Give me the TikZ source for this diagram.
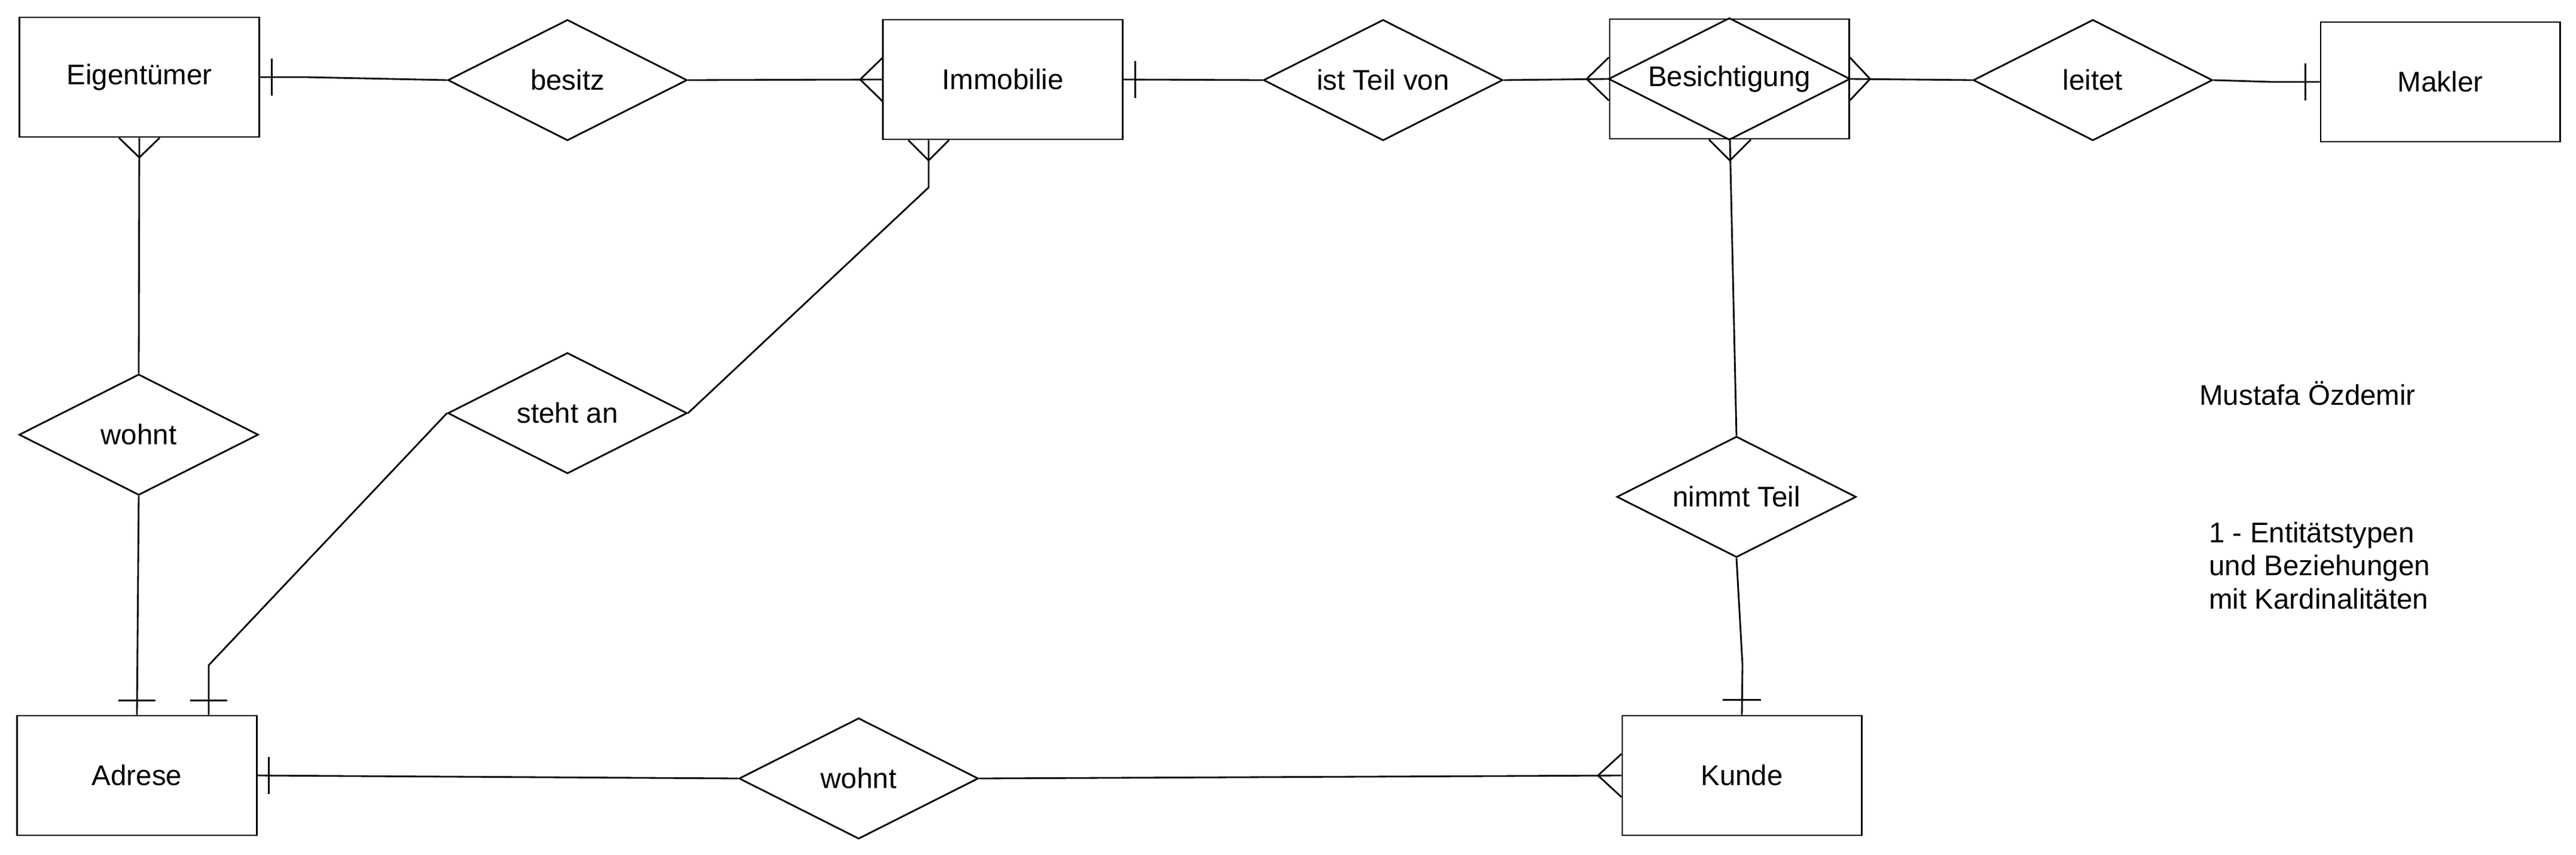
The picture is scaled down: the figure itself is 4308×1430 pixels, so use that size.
\documentclass[tikz,border=0pt]{standalone}
\usepackage{fontspec}
\setmainfont{Liberation Sans}
\usetikzlibrary{calc,shapes.geometric}

\begin{document}
\begin{tikzpicture}[x=0.01cm, y=-0.01cm, thick,
	every node/.style={font=\fontsize{13.5}{16}\selectfont},
	entity/.style={draw, rectangle, minimum width=4cm, minimum height=2cm, inner sep=0pt},
	relation/.style={draw, diamond, aspect=2, minimum width=4cm, minimum height=2.02cm, inner sep=0pt}]
	\useasboundingbox (0,0) rectangle (4308,1430);

	%entities
	\node[entity] (eig) at (233,129) {Eigentümer};
	\node[entity] (immo) at (1677,133) {Immobilie};
	\node[entity] (besi) at (2892,132) {Besichtigung};
	\draw (besi.west)--(besi.north)--(besi.east)--(besi.south)--cycle;
	\node[entity] (makler) at (4081,137) {Makler};
	\node[entity] (adr) at (229,1297) {Adrese};
	\node[entity] (kunde) at (2913,1297) {Kunde};

	%relationships
	\node[relation] (besitz) at (949,134) {besitz};
	\node[relation] (teil) at (2313,134) {ist Teil von};
	\node[relation] (leitet) at (3500,134) {leitet};
	\node[relation] (wohnA) at (232,727) {wohnt};
	\node[relation] (steht) at (949,691) {steht an};
	\node[relation] (nimmt) at (2904,831) {nimmt Teil};
	\node[relation] (wohnB) at (1436,1302) {wohnt};

	%lines
	\draw (eig.east) -- ++(77,0) -- (besitz.west);
	\draw (besitz.east) -- (immo.west);
	\draw (immo.east) -- (teil.west);
	\draw (teil.east) -- (besi.west);
	\draw (besi.east) -- (leitet.west);
	\draw (leitet.east) -- ($(makler.west)+(-81,0)$) -- (makler.west);
	\draw (eig.south) -- (wohnA.north);
	\draw (wohnA.south) -- (adr.north);
	\draw ($(immo.south)+(-124,0)$) -- ++(0,79) -- (steht.east);
	\draw (steht.west) -- ($(adr.north)+(120,-83)$) -- ($(adr.north)+(120,0)$);
	\draw ($(besi.south)+(1,0)$) -- (nimmt.north);
	\draw (nimmt.south) -- ($(kunde.north)+(1,-84)$) -- (kunde.north);
	\draw (adr.east) -- (wohnB.west);
	\draw (wohnB.east) -- (kunde.west);

	%one
	\draw (eig.east) ++(20,-31) -- ++(0,62);
	\draw (immo.east) ++(20,-31) -- ++(0,62);
	\draw (makler.west) ++(-24,-31) -- ++(0,62);
	\draw (adr.east) ++(19,-31) -- ++(0,62);
	\draw (adr.north) ++(-31,-24) -- ++(62,0);
	\draw (adr.north) ++(89,-24) -- ++(62,0);
	\draw (kunde.north) ++(-32,-25) -- ++(64,0);

	%many
	\draw (immo.west) ++(0,-36) -- ++(-37,36) -- ++(37,36);
	\draw (besi.west) ++(0,-36) -- ++(-37,36) -- ++(37,36);
	\draw (besi.east) ++(0,-36) -- ++(34,36) -- ++(-34,36);
	\draw (kunde.west) ++(0,-36) -- ++(-39,36) -- ++(39,36);
	\draw (eig.south) ++(-34,0) -- ++(34,33) -- ++(34,-33);
	\draw (immo.south) ++(-158,0) -- ++(34,34) -- ++(34,-34);
	\draw (besi.south) ++(-34,0) -- ++(35,35) -- ++(35,-35);

	%text
	\node (author) at (3859,658) {Mustafa Özdemir};
	\node[anchor=west, align=left, inner sep=0pt, font=\fontsize{13.5}{15.9}\selectfont] (task) at (3693,946) {1 - Entitätstypen\\und Beziehungen\\mit Kardinalitäten};
\end{tikzpicture}
\end{document}
